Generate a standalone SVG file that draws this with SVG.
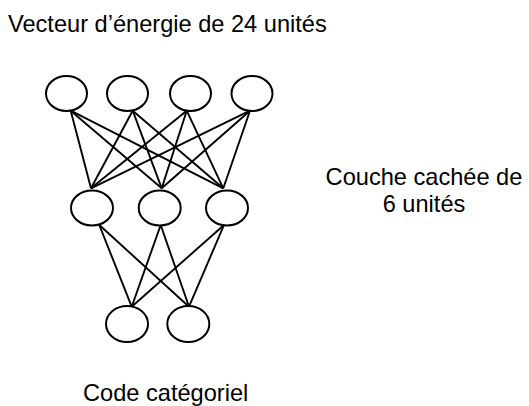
<svg xmlns="http://www.w3.org/2000/svg" width="529" height="406" viewBox="0 0 529 406">
<style>
.n{fill:#fff;stroke:#000;stroke-width:2}
.e line{stroke:#000;stroke-width:1.9}
.t{font-family:"Liberation Sans",Arial,sans-serif;font-size:23.6px;fill:#000}
</style>
<rect width="529" height="406" fill="#fff"/>
<g id="connectors" class="e">
<line x1="70.7" y1="110.7" x2="91" y2="188.3"/>
<line x1="70.7" y1="110.7" x2="161.7" y2="188.3"/>
<line x1="70.7" y1="110.7" x2="223.3" y2="188.3"/>
<line x1="132.7" y1="110.7" x2="91" y2="188.3"/>
<line x1="132.7" y1="110.7" x2="161.7" y2="188.3"/>
<line x1="132.7" y1="110.7" x2="223.3" y2="188.3"/>
<line x1="186.7" y1="110.7" x2="91" y2="188.3"/>
<line x1="186.7" y1="110.7" x2="161.7" y2="188.3"/>
<line x1="186.7" y1="110.7" x2="223.3" y2="188.3"/>
<line x1="250" y1="110.7" x2="91" y2="188.3"/>
<line x1="250" y1="110.7" x2="161.7" y2="188.3"/>
<line x1="250" y1="110.7" x2="223.3" y2="188.3"/>
<line x1="99.3" y1="225" x2="131.7" y2="306.7"/>
<line x1="99.3" y1="225" x2="189" y2="306.7"/>
<line x1="160.7" y1="225" x2="131.7" y2="306.7"/>
<line x1="160.7" y1="225" x2="189" y2="306.7"/>
<line x1="224" y1="225" x2="131.7" y2="306.7"/>
<line x1="224" y1="225" x2="189" y2="306.7"/>
</g>
<g id="in1"><ellipse class="n" cx="66.5" cy="93.5" rx="20.5" ry="17.5"/></g>
<g id="in2"><ellipse class="n" cx="127.5" cy="93.5" rx="20.5" ry="17.5"/></g>
<g id="in3"><ellipse class="n" cx="190.5" cy="93.5" rx="20.5" ry="17.5"/></g>
<g id="in4"><ellipse class="n" cx="252" cy="93.5" rx="20.5" ry="17.5"/></g>
<g id="h1"><ellipse class="n" cx="92" cy="208" rx="21" ry="17.5"/></g>
<g id="h2"><ellipse class="n" cx="159.7" cy="208" rx="21" ry="17.5"/></g>
<g id="h3"><ellipse class="n" cx="227" cy="208" rx="21" ry="17.5"/></g>
<g id="o1"><ellipse class="n" cx="127" cy="324" rx="21" ry="18"/></g>
<g id="o2"><ellipse class="n" cx="188.3" cy="324" rx="21" ry="18"/></g>
<g id="labels">
<text class="t" x="8" y="32">Vecteur d’énergie de 24 unités</text>
<text class="t" x="424" y="185" text-anchor="middle">Couche cachée de</text>
<text class="t" x="424" y="212" text-anchor="middle">6 unités</text>
<text class="t" x="83" y="401">Code catégoriel</text>
</g>
</svg>
